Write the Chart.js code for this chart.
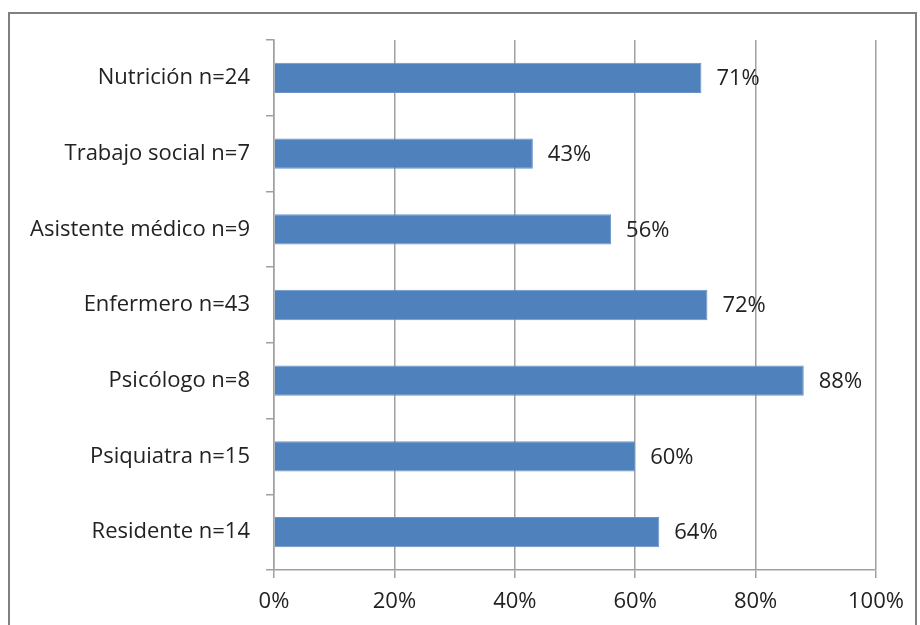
<!DOCTYPE html>
<html>
<head>
<meta charset="utf-8">
<script src="https://cdn.jsdelivr.net/npm/chart.js@4.4.1/dist/chart.umd.min.js"></script>
<style>
  html, body { margin: 0; padding: 0; background: #fff; }
  #marco { position: absolute; left: 8px; top: 12px; width: 905px; height: 640px; border: 2px solid #808080; }
  #lienzo { position: absolute; left: 0; top: 0; width: 920px; height: 625px; }
</style>
</head>
<body>
<div id="marco"></div>
<div id="lienzo"><canvas id="myChart" width="920" height="625"></canvas></div>
<script>
var categorias = ['Nutrición n=24', 'Trabajo social n=7', 'Asistente médico n=9', 'Enfermero n=43', 'Psicólogo n=8', 'Psiquiatra n=15', 'Residente n=14'];
var porcentajes = [71, 43, 56, 72, 88, 60, 64];
var ticksX = [0, 20, 40, 60, 80, 100];

var fuente = { family: "'Open Sans', 'Liberation Sans', sans-serif", size: 22 };
var colorTexto = '#222222';
var colorRejilla = '#a0a0a0';

// etiquetas de valor a la derecha de cada barra
var etiquetas = {
  id: 'etiquetas',
  afterDatasetsDraw: function(chart) {
    var ctx = chart.ctx;
    var meta = chart.getDatasetMeta(0);
    ctx.save();
    ctx.font = fuente.size + 'px ' + fuente.family;
    ctx.fillStyle = colorTexto;
    ctx.textAlign = 'left';
    ctx.textBaseline = 'middle';
    meta.data.forEach(function(bar, i) {
      ctx.fillText(porcentajes[i] + '%', bar.x + 15, bar.y + 1);
    });
    ctx.restore();
  }
};

var myChart = document.getElementById('myChart');
var grafica = new Chart(myChart, {
  type: 'bar',
  data: {
    labels: categorias,
    datasets: [{
      data: porcentajes,
      backgroundColor: '#4f81bd',
      borderColor: '#6a94c8',
      borderWidth: 1,
      barPercentage: 0.4,
      categoryPercentage: 1
    }]
  },
  options: {
    indexAxis: 'y',
    responsive: false,
    animation: false,
    layout: { padding: { left: 0, right: 44, top: 40, bottom: 0 } },
    plugins: {
      legend: { display: false },
      tooltip: { enabled: false }
    },
    scales: {
      x: {
        min: 0,
        max: 100,
        afterBuildTicks: function(s) { s.ticks = ticksX.map(function(v) { return { value: v }; }); },
        afterFit: function(s) { s.height = 55; },
        ticks: { callback: function(v) { return v + '%'; }, font: fuente, color: colorTexto, padding: 11 },
        grid: { color: colorRejilla, lineWidth: 1.5, tickLength: 8 },
        border: { color: colorRejilla, width: 1.5 }
      },
      y: {
        afterFit: function(s) { s.width = 274; },
        ticks: { font: fuente, color: colorTexto, padding: 16 },
        grid: { drawOnChartArea: false, color: colorRejilla, lineWidth: 1.5, tickLength: 8, offset: true },
        border: { color: colorRejilla, width: 1.5 }
      }
    }
  },
  plugins: [etiquetas]
});
</script>
</body>
</html>
